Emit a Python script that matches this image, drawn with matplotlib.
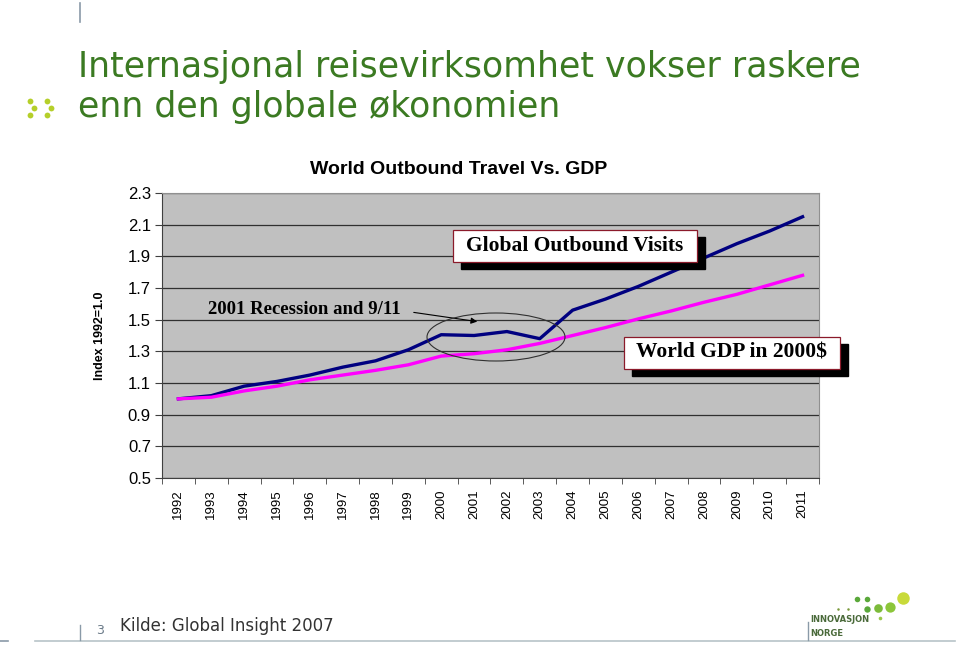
import numpy as np
import matplotlib.pyplot as plt
from matplotlib.patches import Rectangle, Ellipse

years = [str(y) for y in range(1992, 2012)]
visits = [1.00, 1.02, 1.08, 1.11, 1.15, 1.20, 1.24, 1.31, 1.405, 1.40,
          1.425, 1.38, 1.56, 1.63, 1.71, 1.80, 1.89, 1.98, 2.06, 2.15]
gdp = [1.00, 1.01, 1.05, 1.08, 1.12, 1.15, 1.18, 1.215, 1.27, 1.285,
       1.31, 1.35, 1.40, 1.45, 1.505, 1.555, 1.61, 1.66, 1.72, 1.78]
yticks = [0.5, 0.7, 0.9, 1.1, 1.3, 1.5, 1.7, 1.9, 2.1, 2.3]

W, H = 960, 645
fig = plt.figure(figsize=(9.6, 6.45), dpi=100)
fig.patch.set_facecolor("white")


def fx(x):
    return x / W


def fy(y):
    return 1 - y / H


def dot(x, y, size, color):
    fig.add_artist(plt.Line2D([fx(x)], [fy(y)], marker="o", markersize=size,
                              color=color, markeredgewidth=0, lw=0))


green = "#3b7a22"

# slide header
fig.text(fx(78), fy(67), "Internasjonal reisevirksomhet vokser raskere",
         fontsize=25, color=green, va="center", ha="left")
fig.text(fx(78), fy(107), "enn den globale økonomien",
         fontsize=25, color=green, va="center", ha="left")
fig.add_artist(plt.Line2D([fx(80), fx(80)], [fy(3), fy(22)],
                          color="#8a9aa8", lw=1.2))
for cx in (30, 47):
    for dx, dy in ((0, -7), (4, 0), (0, 7)):
        dot(cx + dx, 108 + dy, 4.2, "#b5cf2a")

# footer
fig.add_artist(plt.Line2D([fx(35), fx(955)], [fy(641), fy(641)],
                          color="#b8c4c8", lw=1.2))
fig.add_artist(plt.Line2D([fx(0), fx(8)], [fy(641), fy(641)],
                          color="#8a9aa8", lw=1.2))
fig.add_artist(plt.Line2D([fx(80), fx(80)], [fy(625), fy(640)],
                          color="#8a9aa8", lw=1.0))
fig.add_artist(plt.Line2D([fx(808), fx(808)], [fy(622), fy(640)],
                          color="#8a9aa8", lw=1.0))
fig.text(fx(96), fy(631), "3", fontsize=9, color="#6a7a88", va="center")
fig.text(fx(120), fy(626), "Kilde: Global Insight 2007", fontsize=12,
         color="#333333", va="center")

# logo
logo_dots = [(838, 609, 1.8, "#7a9a3a"), (848, 609, 1.8, "#7a9a3a"),
             (857, 599, 4.0, "#5aa83a"), (867, 599, 4.0, "#5aa83a"),
             (867, 609, 4.6, "#5aa83a"), (878, 608, 6.2, "#7cbb3a"),
             (890, 607, 7.4, "#8cc63a"), (903, 598, 9.0, "#c8da3a"),
             (880, 618, 2.6, "#9ac84a")]
for x, y, s, c in logo_dots:
    dot(x, y, s, c)
fig.text(fx(810), fy(619), "INNOVASJON", fontsize=6, color="#4a6a3a",
         fontweight="bold", va="center")
fig.text(fx(810), fy(633), "NORGE", fontsize=6, color="#4a6a3a",
         fontweight="bold", va="center")

# chart
ax = fig.add_axes([fx(162), fy(478), fx(819) - fx(162), fy(193) - fy(478)])
ax.set_facecolor("#c0c0c0")
x = np.arange(len(years))
ax.plot(x, visits, color="#000080", lw=2.4, zorder=3)
ax.plot(x, gdp, color="#ff00ff", lw=2.4, zorder=3)

ax.set_xlim(-0.5, len(years) - 0.5)
ax.set_ylim(0.5, 2.3)
ax.set_yticks(yticks)
ax.set_yticklabels([f"{v:.1f}" for v in yticks], fontsize=12,
                   family="Liberation Sans")
ax.set_xticks(x)
ax.set_xticklabels(years, rotation=90, fontsize=9.5, family="Liberation Sans")
ax.set_xticks(np.arange(len(years) + 1) - 0.5, minor=True)
ax.tick_params(axis="x", which="major", length=0, pad=8)
ax.tick_params(axis="x", which="minor", length=4, direction="out",
               color="#404040")
ax.tick_params(axis="y", length=5, direction="out", color="#404040", pad=3)
ax.grid(axis="y", color="#303030", lw=0.9)
ax.set_axisbelow(True)
for side in ("top", "right"):
    ax.spines[side].set_color("#909090")
for side in ("left", "bottom"):
    ax.spines[side].set_color("#404040")

fig.text(fx(459), fy(169), "World Outbound Travel Vs. GDP", fontsize=14,
         fontweight="bold", family="Liberation Sans", ha="center",
         va="center")
ax.set_ylabel("Index 1992=1.0", fontsize=9, fontweight="bold",
              family="Liberation Sans", labelpad=16)


def label_box(x0, y0, x1, y1, text):
    fig.add_artist(Rectangle((fx(x0 + 8), fy(y1 + 7)), fx(x1 - x0),
                             fy(y0) - fy(y1), color="black",
                             transform=fig.transFigure, zorder=5))
    fig.add_artist(Rectangle((fx(x0), fy(y1)), fx(x1 - x0),
                             fy(y0) - fy(y1), facecolor="white",
                             edgecolor="#8b1a2a", lw=0.9,
                             transform=fig.transFigure, zorder=6))
    fig.text(fx((x0 + x1) / 2), fy((y0 + y1) / 2), text, fontsize=15.5,
             fontweight="bold", family="Liberation Serif", ha="center",
             va="center", zorder=7)


label_box(453, 230, 697, 262, "Global Outbound Visits")
label_box(624, 337, 840, 369, "World GDP in 2000$")

fig.text(fx(208), fy(309), "2001 Recession and 9/11", fontsize=13.5,
         fontweight="bold", family="Liberation Serif", va="center",
         zorder=7)
ax.annotate("", xy=(fx(480), fy(322)), xytext=(fx(411), fy(312)),
            xycoords="figure fraction", textcoords="figure fraction",
            arrowprops=dict(arrowstyle="-|>", color="black", lw=0.8,
                            mutation_scale=9))
fig.add_artist(Ellipse((fx(496), fy(337)), fx(138), 48 / H, fill=False,
                       edgecolor="#303030", lw=0.8,
                       transform=fig.transFigure, zorder=4))

fig.savefig("out.png", dpi=100)
